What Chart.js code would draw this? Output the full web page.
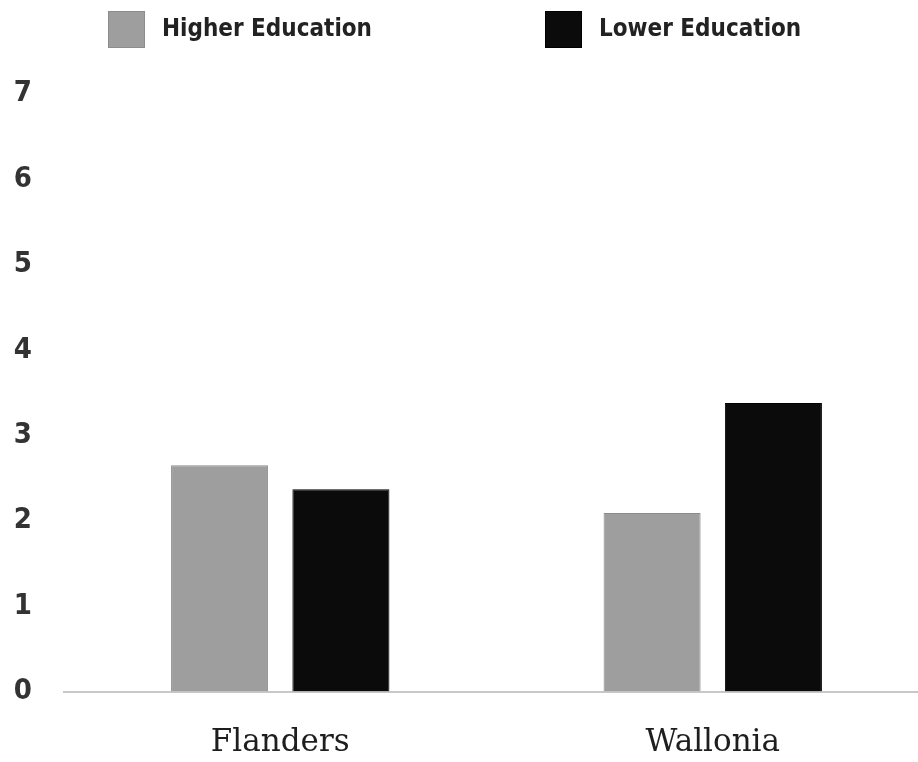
<!DOCTYPE html>
<html>
<head>
<meta charset="utf-8">
<script src="https://cdn.jsdelivr.net/npm/chart.js@4"></script>
<style>
html,body{margin:0;padding:0;background:#fff;overflow:hidden;width:918px;height:762px}
#wrap{width:930px;height:762px;position:relative}
</style>
</head>
<body>
<div id="wrap"><canvas id="c"></canvas></div>
<script>
// ---- data ----
const regions = ['Flanders', 'Wallonia'];
const seriesNames = ['Higher Education', 'Lower Education'];
const higherEducation = [2.65, 2.09];
const lowerEducation = [2.37, 3.38];
const yTickValues = [0, 1, 2, 3, 4, 5, 6, 7];

// ---- styling ----
const SANS = "'Liberation Sans Narrow','DejaVu Sans Condensed',Roboto,sans-serif";
const SERIF = "'DejaVu Serif',serif";
const LEG_SIZE = 24, LEG_WEIGHT = 'bold', BOX = 37, LEG_TOP = 11;
const LEG_X = [108, 545];

const refLegend = {
  id: 'refLegend',
  afterDraw(chart) {
    const ctx = chart.ctx;
    ctx.save();
    ctx.font = `${LEG_WEIGHT} ${LEG_SIZE}px ${SANS}`;
    ctx.textBaseline = 'middle';
    ctx.textAlign = 'left';
    chart.data.datasets.forEach((ds, i) => {
      const x = LEG_X[i];
      ctx.fillStyle = ds.backgroundColor;
      ctx.fillRect(x, LEG_TOP, BOX, BOX);
      ctx.strokeStyle = ds.borderColor;
      ctx.lineWidth = 1;
      ctx.strokeRect(x + 0.5, LEG_TOP + 0.5, BOX - 1, BOX - 1);
      ctx.fillStyle = '#222';
      ctx.fillText(ds.label, x + BOX + 17, LEG_TOP + BOX / 2 + 0);
    });
    ctx.restore();
  }
};

new Chart(document.getElementById('c'), {
  type: 'bar',
  data: {
    labels: regions,
    datasets: [
      { label: seriesNames[0], data: higherEducation, backgroundColor: '#9e9e9e', borderColor: '#8c8c8c', borderWidth: 1 },
      { label: seriesNames[1], data: lowerEducation, backgroundColor: '#0b0b0b', borderColor: '#000000', borderWidth: 1 }
    ]
  },
  options: {
    responsive: true,
    maintainAspectRatio: false,
    animation: false,
    devicePixelRatio: 1,
    layout: { padding: { top: 58, left: 0, right: 1, bottom: 0 } },
    datasets: { bar: { categoryPercentage: 0.561, barPercentage: 0.8 } },
    plugins: { legend: { display: false }, tooltip: { enabled: false } },
    scales: {
      x: {
        grid: { display: false, drawTicks: false },
        border: { display: true, color: '#c8c8c8', width: 2 },
        ticks: { color: '#1e1e1e', font: { family: SERIF, size: 31 }, padding: 33 },
        afterFit(scale) { scale.height = 70.5; }
      },
      y: {
        min: 0,
        max: 7.42,
        grid: { display: false, drawTicks: false },
        border: { display: false },
        afterBuildTicks(scale) { scale.ticks = yTickValues.map(v => ({ value: v })); },
        ticks: { stepSize: 1, includeBounds: false, color: '#333', font: { family: SANS, size: 29, weight: 'bold' }, padding: 32 },
        afterFit(scale) { scale.width = 64; }
      }
    }
  },
  plugins: [refLegend]
});
</script>
</body>
</html>
